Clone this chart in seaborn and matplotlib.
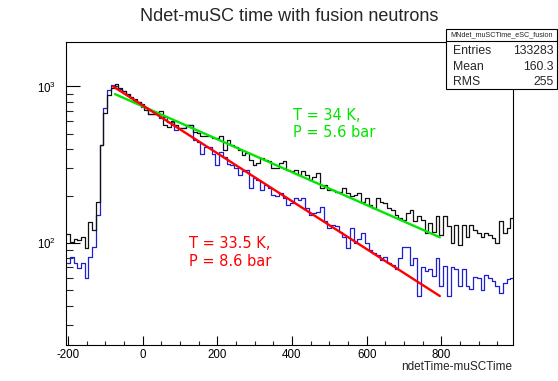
import numpy as np
import pandas as pd
import matplotlib
matplotlib.use("Agg")
import matplotlib.pyplot as plt
import seaborn as sns
from matplotlib.patches import Rectangle
from matplotlib.lines import Line2D
from matplotlib.ticker import FixedLocator, MultipleLocator, LogLocator, NullFormatter

# ---------------- data ----------------
bin_start = -205
bin_width = 10

# T = 34 K, P = 5.6 bar (black)
black_counts = [
    115, 102, 106, 104, 110, 93, 137, 122, 184, 420,
    680, 880, 975, 1030, 975, 930, 890, 855, 830, 800,
    775, 710, 665, 665, 685, 692, 569, 555, 606, 569,
    541, 541, 569, 569, 515, 504, 481, 481, 481, 469,
    469, 481, 392, 458, 424, 412, 394, 367, 376, 340,
    316, 324, 349, 340, 332, 301, 301, 324, 332, 294,
    287, 294, 273, 287, 273, 254, 266, 280, 224, 236,
    219, 219, 213, 213, 224, 208, 199, 203, 208, 184,
    194, 175, 167, 194, 184, 180, 167, 163, 152, 144,
    141, 155, 163, 138, 148, 141, 116, 134, 118, 148,
    112, 150, 128, 100, 131, 98, 131, 110, 131, 122,
    116, 110, 116, 113, 108, 100, 138, 116, 125, 145,
]

# T = 33.5 K, P = 8.6 bar (blue)
blue_counts = [
    75, 82, 75, 69, 75, 60, 82, 95, 151, 424,
    730, 953, 1025, 1000, 967, 930, 886, 843, 810, 790,
    740, 728, 665, 665, 665, 625, 637, 595, 595, 528,
    541, 541, 569, 569, 458, 445, 373, 413, 413, 373,
    313, 383, 355, 321, 313, 301, 273, 287, 294, 224,
    260, 254, 219, 236, 224, 203, 199, 208, 194, 176,
    180, 194, 189, 194, 167, 152, 155, 159, 171, 138,
    125, 131, 128, 118, 110, 93, 125, 100, 107, 116,
    100, 91, 86, 84, 78, 82, 75, 73, 68, 80,
    95, 95, 73, 80, 46, 70, 66, 68, 62, 81,
    53, 71, 46, 70, 68, 53, 68, 53, 51, 61,
    60, 50, 63, 60, 57, 53, 48, 56, 59, 60,
]

# exponential fits (end points)
green_fit_x = [-74, 796]
green_fit_y = [893, 109]
red_fit_x = [-79, 796]
red_fit_y = [1000, 46]

stats_name = "MNdet_muSCTime_eSC_fusion"
stats_rows = [("Entries", "133283"), ("Mean", "160.3"), ("RMS", "255")]

x_major_ticks = [-200, 0, 200, 400, 600, 800]

# ---------------- style ----------------
sns.set_theme(style="white")
plt.rcParams['font.family'] = ['Liberation Sans', 'DejaVu Sans']
plt.rcParams['mathtext.default'] = 'regular'
plt.rcParams['axes.unicode_minus'] = False

W, H = 558, 381
fig = plt.figure(figsize=(W / 100, H / 100), dpi=100)
left, right, top, bottom = 65.7, 513.0, 41.7, 345.0
ax = fig.add_axes([left / W, 1 - bottom / H, (right - left) / W, (bottom - top) / H])

n = len(black_counts)
edges = list(bin_start + bin_width * np.arange(n + 1))
centers = [e + bin_width / 2 for e in edges[:-1]]
df_black = pd.DataFrame({"t": centers, "w": black_counts})
df_blue = pd.DataFrame({"t": centers, "w": blue_counts})

sns.histplot(data=df_blue, x="t", weights="w", bins=edges, element="step",
             fill=False, color="#1f1fcc", linewidth=0.9, ax=ax)
sns.histplot(data=df_black, x="t", weights="w", bins=edges, element="step",
             fill=False, color="#111111", linewidth=0.9, ax=ax)

sns.lineplot(x=green_fit_x, y=green_fit_y, color="#00e600", linewidth=1.7, ax=ax)
sns.lineplot(x=red_fit_x, y=red_fit_y, color="#ff0000", linewidth=1.7, ax=ax)

ax.set_yscale("log")
ax.set_xlim(-206, 992)
ax.set_ylim(22.4, 1929)
ax.set_xlabel("")
ax.set_ylabel("")

for s in ax.spines.values():
    s.set_color("black")
    s.set_linewidth(0.8)

ax.xaxis.set_major_locator(FixedLocator(x_major_ticks))
ax.xaxis.set_minor_locator(MultipleLocator(50))
ax.yaxis.set_major_locator(LogLocator(base=10))
ax.yaxis.set_minor_locator(LogLocator(base=10, subs=np.arange(2, 10)))
ax.yaxis.set_minor_formatter(NullFormatter())
ax.set_yticks([100, 1000])
ax.set_yticklabels(["$10^{2}$", "$10^{3}$"])

ax.tick_params(axis="x", which="major", direction="in", length=6.5, width=0.8,
               bottom=True, top=False, labelsize=8.3, pad=3, colors="black")
ax.tick_params(axis="x", which="minor", direction="in", length=3, width=0.8,
               bottom=True, top=False)
ax.tick_params(axis="y", which="major", direction="in", length=10, width=0.8,
               left=True, right=False, labelsize=8.3, pad=7, colors="black")
ax.tick_params(axis="y", which="minor", direction="in", length=5, width=0.8,
               left=True, right=False)

# title
fig.text(289 / W, 1 - 16.7 / H, "Ndet-muSC time with fusion neutrons",
         ha="center", va="center", fontsize=13)
# x axis title
fig.text(512 / W, 1 - 367 / H, "ndetTime-muSCTime", ha="right", va="center",
         fontsize=8.5)

# annotations
fig.text(293 / W, 1 - 115.7 / H, "T = 34 K,", color="#00e600", ha="left",
         va="center", fontsize=10.5, family=["DejaVu Sans"])
fig.text(293 / W, 1 - 132.7 / H, "P = 5.6 bar", color="#00e600", ha="left",
         va="center", fontsize=10.5, family=["DejaVu Sans"])
fig.text(189 / W, 1 - 243.3 / H, "T = 33.5 K,", color="#ff0000", ha="left",
         va="center", fontsize=10.5, family=["DejaVu Sans"])
fig.text(189 / W, 1 - 261.7 / H, "P = 8.6 bar", color="#ff0000", ha="left",
         va="center", fontsize=10.5, family=["DejaVu Sans"])

# stats box
bx0, bx1, by0, by1 = 445.5, 557.0, 28.5, 89.0
fig.add_artist(Rectangle((bx0 / W, 1 - by1 / H), (bx1 - bx0) / W, (by1 - by0) / H,
                         transform=fig.transFigure, facecolor="white",
                         edgecolor="black", linewidth=0.8, zorder=10))
fig.add_artist(Line2D([bx0 / W, bx1 / W], [1 - 40.5 / H, 1 - 40.5 / H],
                      transform=fig.transFigure, color="black", linewidth=0.8,
                      zorder=11))
fig.text((bx0 + bx1) / 2 / W, 1 - 34.5 / H, stats_name, ha="center", va="center",
         fontsize=5.2, zorder=12)
row_y = [51.5, 66.8, 81.8]
for (lab, val), yy in zip(stats_rows, row_y):
    fig.text(452.7 / W, 1 - yy / H, lab, ha="left", va="center", fontsize=8.8, zorder=12)
    fig.text(553.3 / W, 1 - yy / H, val, ha="right", va="center", fontsize=8.8, zorder=12)

fig.savefig("out.png", dpi=100)
